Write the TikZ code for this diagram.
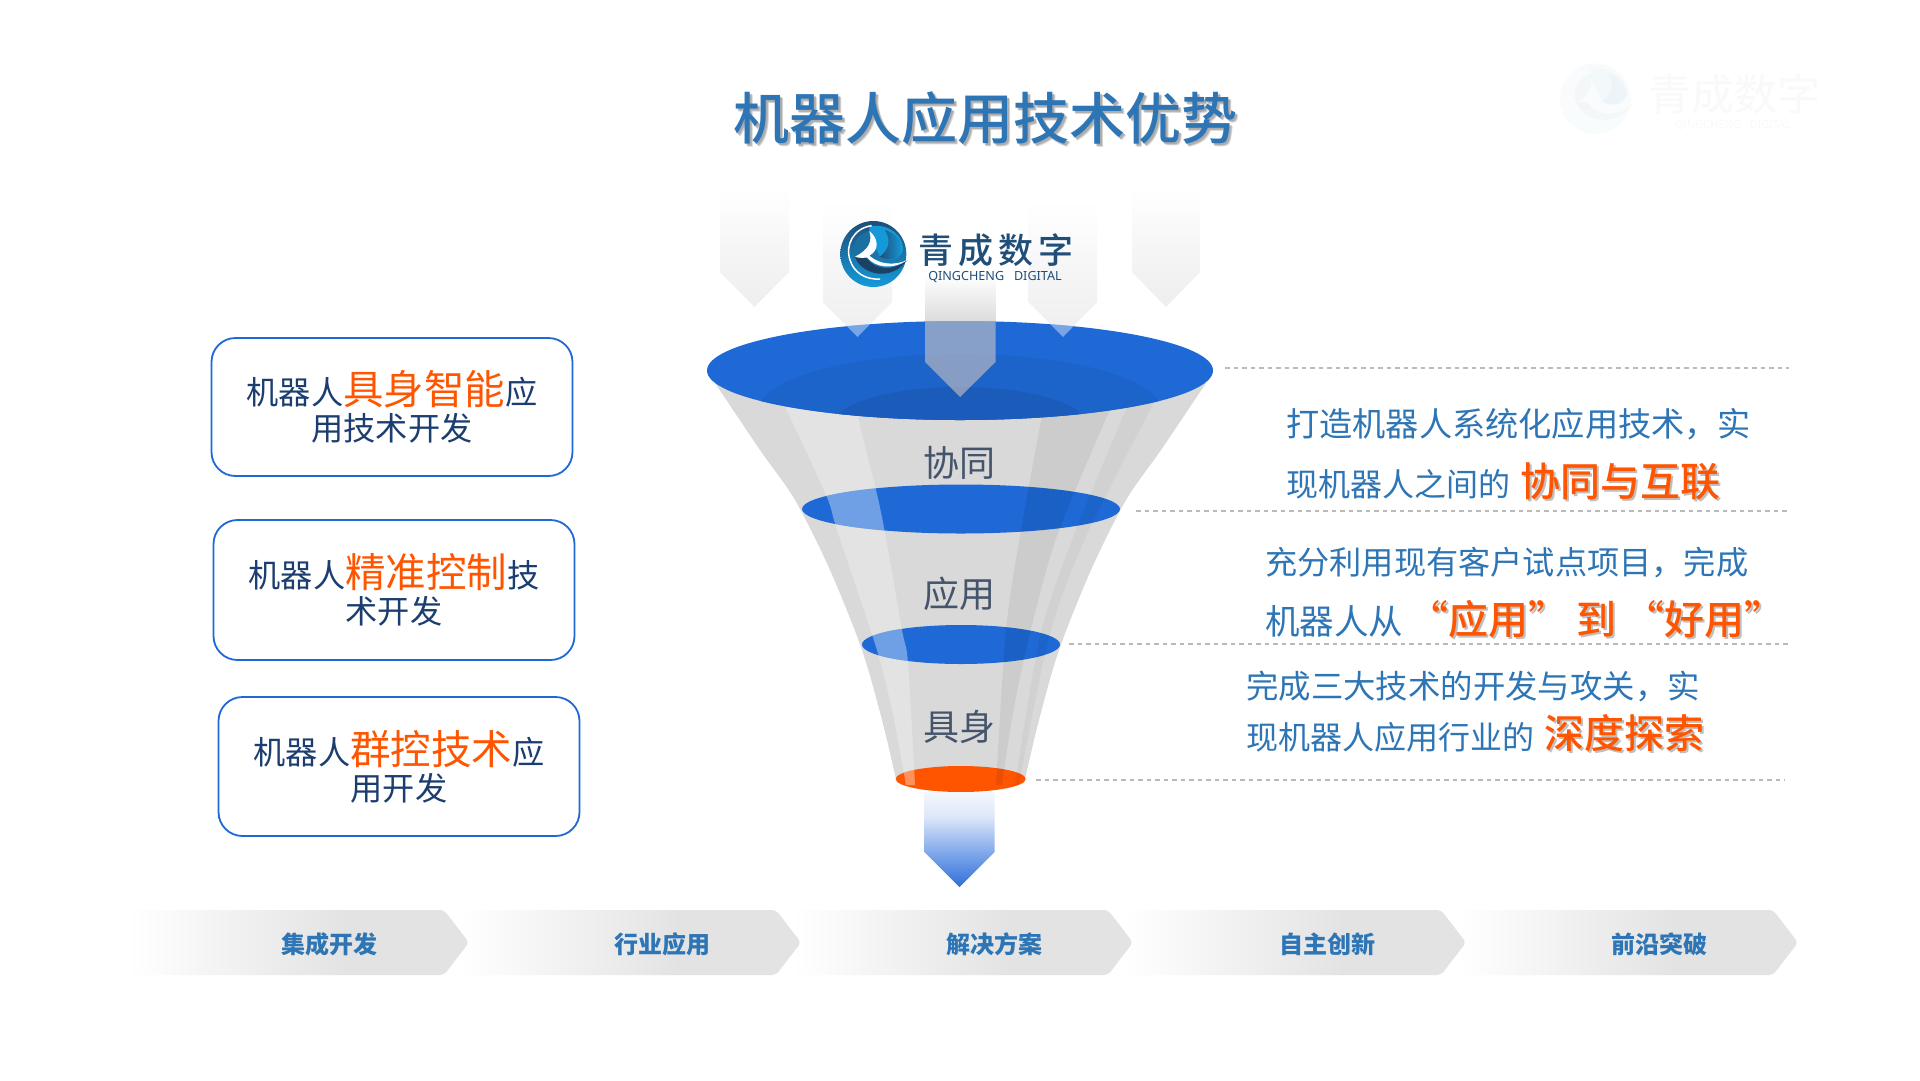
\documentclass[tikz,border=0pt]{standalone}
\usepackage{fontspec}
\setmainfont{Noto Sans CJK SC}
\newfontfamily\cjkmed{Noto Sans CJK SC Medium}
\newfontfamily\latinlogo{Noto Sans}
\usetikzlibrary{shapes.geometric}
\definecolor{funnelblue}{HTML}{1E69D5}
\definecolor{accent}{HTML}{FF5500}
\definecolor{textblue}{HTML}{2E75B6}
\definecolor{navy}{HTML}{1C3D70}
\definecolor{slate}{HTML}{44546A}
\definecolor{logoblue}{HTML}{1F4E79}
\definecolor{logobright}{HTML}{149AD9}
\definecolor{logomid}{HTML}{1B6FA3}
\definecolor{chevgray}{HTML}{E3E3E3}
\definecolor{fadea}{HTML}{EEEEEE}
\definecolor{fadeb}{HTML}{F6F6F6}
\definecolor{fadec}{HTML}{FDFDFD}
\definecolor{outa}{HTML}{2F6FD8}
\definecolor{outb}{HTML}{7FA8EA}
\definecolor{outc}{HTML}{DCE7F9}
\definecolor{outd}{HTML}{F5F8FD}
\pgfdeclarehorizontalshading{chevshade}{100bp}{color(0bp)=(white); color(25bp)=(white); color(57bp)=(chevgray); color(100bp)=(chevgray)}
\pgfdeclareverticalshading{inshade}{100bp}{color(0bp)=(fadea); color(25bp)=(fadea); color(50bp)=(fadeb); color(68bp)=(fadec); color(75bp)=(white); color(100bp)=(white)}
\pgfdeclareverticalshading{outshade}{100bp}{color(0bp)=(outa); color(25bp)=(outa); color(43bp)=(outb); color(62bp)=(outc); color(75bp)=(outd); color(100bp)=(outd)}
\newcommand{\px}[1]{\fontsize{#1}{#1}\selectfont}
\tikzset{
  box/.style={draw=funnelblue,line width=1.8pt,rounded corners=24pt,fill=white,minimum width=361pt,minimum height=138pt,inner sep=0pt},
  boxtext/.style={align=center,text=navy,font=\fontsize{32.2}{36}\selectfont,inner sep=0pt},
  lens/.style={ellipse,inner sep=0pt,fill=funnelblue},
  funneltext/.style={text=slate,font=\px{36},inner sep=0pt},
  desc/.style={anchor=base west,text=textblue,font=\px{32},inner sep=0pt},
  hotline/.style={anchor=base west,text=accent,font=\cjkmed\px{40},inner sep=0pt},
  hotshade/.style={anchor=base west,text=black!55,opacity=.45,font=\cjkmed\px{40},inner sep=0pt},
  inarrow/.style={shading=inshade},
  guide/.style={draw=black!27,line width=1.6pt,dash pattern=on 4.5pt off 4pt},
  chev/.style={shading=chevshade,rounded corners=4pt},
  chevtext/.style={text=textblue,font=\bfseries\px{24},inner sep=0pt}
}
% logo drawn in the coordinates of a 3x crop
\newcommand{\logomark}[3]{%
\begin{scope}[shift={(#1,#2)},x=#3pt,y=-#3pt]
  \shade[top color=logoblue,bottom color=logobright] (130,117) circle [radius=99];
  \fill[logobright] (118,35) .. controls (170,22) and (225,60) .. (218,110) .. controls (205,135) and (175,140) .. (150,125) -- (118,60) -- cycle;
  \shade[left color=logoblue,right color=logobright] (165,45) .. controls (185,80) and (175,105) .. (150,125) .. controls (175,140) and (205,135) .. (218,105) .. controls (215,75) and (195,55) .. (165,45) -- cycle;
  \draw[white,line width=1.5pt] (125,32) .. controls (70,40) and (45,90) .. (60,135) .. controls (72,175) and (110,195) .. (150,192);
  \fill[logomid] (118,48) .. controls (85,55) and (62,90) .. (75,125) .. controls (100,118) and (125,90) .. (118,48) -- cycle;
  \fill[logoblue!85!black] (75,125) .. controls (90,175) and (180,205) .. (232,135) .. controls (190,170) and (135,165) .. (110,130) -- cycle;
  \fill[white] (118,48) .. controls (128,80) and (115,105) .. (75,125) .. controls (85,130) and (100,128) .. (112,128) .. controls (135,158) and (190,165) .. (232,135) .. controls (195,152) and (150,150) .. (118,122) .. controls (150,105) and (145,70) .. (118,48) -- cycle;
\end{scope}}
\def\bandlight{plot[smooth] coordinates {(782,400) (826,495) (837,530) (876,647) (892,710) (906,785)} -- plot[smooth] coordinates {(915,785) (908,663) (902,630) (885,533) (876,490) (856,410)} -- cycle}
\def\banddark{plot[smooth] coordinates {(1043,410) (1021,530) (1006,630) (996,785)} -- plot[smooth] coordinates {(1002,785) (1013,713) (1030,633) (1058,533) (1112,405)} -- cycle}
\def\bandmid{plot[smooth] coordinates {(1130,400) (1076,530) (1041,633) (1015,785)} -- plot[smooth] coordinates {(1019,785) (1050,633) (1089,530) (1158,395)} -- cycle}
\begin{document}
\begin{tikzpicture}[x=1pt,y=-1pt]
\useasboundingbox (0,0) rectangle (1920,1080);
\fill[white] (0,0) rectangle (1920,1080);

% watermark
\begin{scope}[opacity=.025]
\logomark{1549}{57}{0.357}
\end{scope}
\node[text=black!2.5,font=\px{43},inner sep=0pt] (wmname) at (1734,94) {青成数字};
\node[text=black!2.5,font=\latinlogo\px{11},inner sep=0pt] (wmsub) at (1733,125) {QINGCHENG\ \ \ DIGITAL};

% title
\node[text=black!60,opacity=.28,font=\cjkmed\px{56},inner sep=0pt] (titleshade2) at (988,121) {机器人应用技术优势};
\node[text=black!60,opacity=.35,font=\cjkmed\px{56},inner sep=0pt] (titleshade) at (987,120) {机器人应用技术优势};
\node[text=textblue,font=\cjkmed\px{56},inner sep=0pt] (title) at (985,118) {机器人应用技术优势};

% incoming arrows
\path[inarrow] (720,185) -- (789,185) -- (789,272) -- (754.5,307) -- (720,272) -- cycle;
\path[inarrow] (1132,185) -- (1200,185) -- (1200,272) -- (1166,307) -- (1132,272) -- cycle;
\path[inarrow] (823,200) -- (892,200) -- (892,302) -- (857.5,337) -- (823,302) -- cycle;
\path[inarrow] (1028.5,200) -- (1097,200) -- (1097,302) -- (1063,337) -- (1028.5,302) -- cycle;
\fill[top color=white,bottom color=black!15] (925,275) rectangle (995.5,325);

% funnel body
\fill[black!15] plot[smooth] coordinates {(715,383) (760,450) (795,500) (830,570) (862,650) (882,720) (896,779)} -- (1025,779) -- plot[smooth] coordinates {(1025,779) (1039,720) (1059,650) (1091,570) (1126,500) (1161,450) (1206,383)} -- cycle;
\fill[black!11] \bandlight;
\fill[black!20] \banddark;
\fill[black!18] \bandmid;

% lenses
\node[lens,minimum width=506pt,minimum height=99pt] (lensa) at (960,370.5) {};
\node[lens,minimum width=318pt,minimum height=49pt] (lensb) at (961,509) {};
\node[lens,minimum width=198pt,minimum height=39pt] (lensc) at (961,644.5) {};
\node[lens,fill=accent,minimum width=130pt,minimum height=26pt] (lensd) at (960.7,779) {};

% inner reflections on the mouth
\begin{scope}
\clip (960,370.5) ellipse [x radius=253,y radius=49.5];
\fill[black!5!funnelblue] (960,410) ellipse [x radius=201,y radius=56];
\fill[black!12!funnelblue] (960,425) ellipse [x radius=127,y radius=38];
\fill[white,opacity=.4] (823,280) -- (892,280) -- (892,302) -- (857.5,337) -- (823,302) -- cycle;
\fill[white,opacity=.4] (1028.5,280) -- (1097,280) -- (1097,302) -- (1063,337) -- (1028.5,302) -- cycle;
\fill[white!75!orange,opacity=.47] (925,300) -- (995.5,300) -- (995.5,362) -- (960,397) -- (925,362) -- cycle;
\end{scope}

% bands seen through the lower lenses
\foreach \cx/\cy/\rx/\ry in {961/509/159/24.5,961/644.5/99/19.5,960.7/779/65/13}{
  \begin{scope}
  \clip (\cx,\cy) ellipse [x radius=\rx,y radius=\ry];
  \fill[white,opacity=.36] \bandlight;
  \fill[black,opacity=.08] \banddark;
  \fill[black,opacity=.05] \bandmid;
  \end{scope}
}

% funnel labels
\node[funneltext] (lblco) at (959,463) {协同};
\node[funneltext] (lblapp) at (959,594) {应用};
\node[funneltext] (lblbody) at (959,727) {具身};

% outgoing arrow
\path[shading=outshade] (924.5,792) -- (994.5,792) -- (994.5,852) -- (959.5,887) -- (924.5,852) -- cycle;

% logo
\logomark{830}{215}{0.3333}
\node[anchor=west,text=logoblue,font=\cjkmed\px{35},inner sep=0pt] (logoname) at (918,250) {青\hspace{5pt}成\hspace{5pt}数\hspace{5pt}字};
\node[text=logoblue,font=\latinlogo\px{12.6},inner sep=0pt] (logosub) at (995,277) {QINGCHENG\ \ \ DIGITAL};

% left boxes
\node[box] (boxa) at (392,407) {};
\node[boxtext] (texta) at (392,406.5) {机器人\textcolor{accent}{\px{40.5}具身智能}应\\用技术开发};
\node[box,minimum height=140pt] (boxb) at (394,590) {};
\node[boxtext] (textb) at (394,589.5) {机器人\textcolor{accent}{\px{40.5}精准控制}技\\术开发};
\node[box,minimum height=139pt] (boxc) at (399,766.5) {};
\node[boxtext] (textc) at (399,766.5) {机器人\textcolor{accent}{\px{40.5}群控技术}应\\用开发};

% guide lines
\coordinate (ga) at (1225,368); \coordinate (gae) at (1789,368);
\coordinate (gb) at (1136,511); \coordinate (gbe) at (1788,511);
\coordinate (gc) at (1069,644); \coordinate (gce) at (1788,644);
\coordinate (gd) at (1036,780); \coordinate (gde) at (1785,780);
\draw[guide] (ga) -- (gae);
\draw[guide] (gb) -- (gbe);
\draw[guide] (gc) -- (gce);
\draw[guide] (gd) -- (gde);

% right descriptions
\node[desc,font=\px{33.2}] (da) at (1286,436) {打造机器人系统化应用技术，实};
\node[desc] (db) at (1286,496) {现机器人之间的};
\node[hotshade] (hbs) at (1522,498) {协同与互联};
\node[hotline] (hb) at (1520,496) {协同与互联};
\node[desc,font=\px{32.2}] (dc) at (1265,574) {充分利用现有客户试点项目，完成};
\node[desc,font=\px{34.5}] (dd) at (1265,634) {机器人从};
\node[hotshade] (hds) at (1410,636) {“应用”\hspace{8pt}到\hspace{8pt}“好用”};
\node[hotline] (hd) at (1408,634) {“应用”\hspace{8pt}到\hspace{8pt}“好用”};
\node[desc,font=\px{32.4}] (de) at (1246,698) {完成三大技术的开发与攻关，实};
\node[desc] (df) at (1246,749) {现机器人应用行业的};
\node[hotshade] (hfs) at (1546,750) {深度探索};
\node[hotline] (hf) at (1544,748) {深度探索};

% chevrons, right to left so that each tip lies over the faded start of the next
\foreach \tip/\tx/\lab/\nm in {1798/1659/前沿突破/ce,1466/1327/自主创新/cd,1133/994/解决方案/cc,801/662.5/行业应用/cb,469/329/集成开发/ca}{
  \path[chev] ({\tip-340},910) -- ({\tip-25},910) -- (\tip,942.5) -- ({\tip-25},975) -- ({\tip-340},975) -- cycle;
  \node[chevtext] (\nm) at (\tx,944) {\lab};
}
\end{tikzpicture}
\end{document}
